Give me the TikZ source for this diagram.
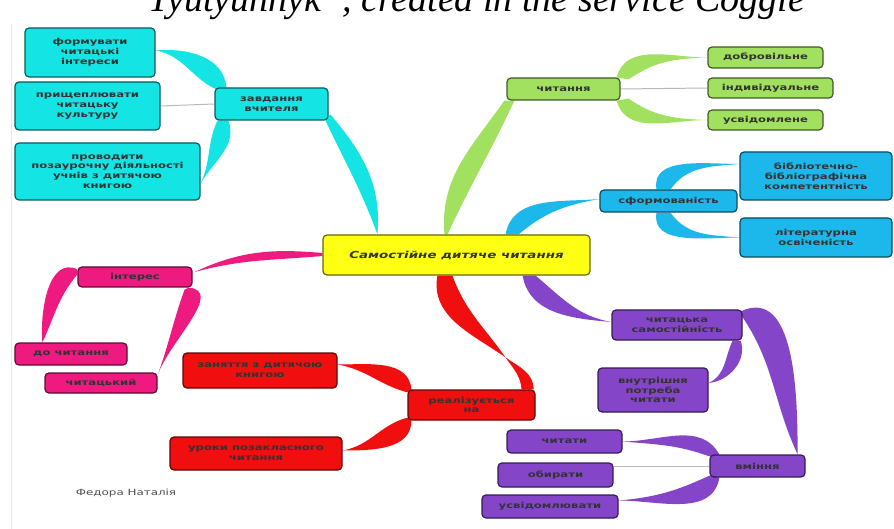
\documentclass[tikz,border=0pt]{standalone}
\usepackage{fontspec}
\newfontfamily\boxfont[FakeStretch=1.4]{DejaVu Sans}
\newfontfamily\capfont{Liberation Serif}
\usetikzlibrary{calc, backgrounds}
\definecolor{cyanc}{HTML}{14E4E4}
\definecolor{greenc}{HTML}{A2E060}
\definecolor{bluec}{HTML}{1CB8EC}
\definecolor{yellowc}{HTML}{FFFF14}
\definecolor{purc}{HTML}{8445C8}
\definecolor{redc}{HTML}{F00E0E}
\definecolor{pinkc}{HTML}{EE1A80}
\tikzset{
  mmbox/.style   = {draw=#1!40!black, fill=#1, line width=1.2pt,
                    rounded corners=4pt, align=center, inner sep=1pt,
                    font=\boxfont\bfseries\fontsize{8.3}{9.8}\selectfont, text=black!80},
  branch/.style  = {fill=#1},
  plainlink/.style = {draw=gray!55, line width=1pt},
}

\begin{document}
\begin{tikzpicture}[x=1pt, y=-1pt]
    \useasboundingbox (0,0) rectangle (894,529);
    % --- caption (cut by the page) and frame ---------------------------
    \node[font=\capfont\itshape\fontsize{38}{38}\selectfont, anchor=base] (caption)
      at (477,12) {Tyutyunnyk”, created in the service Coggle};
    \draw[gray!18, line width=1pt] (11,24) -- (11,529);
    % --- root ------------------------------------------------------------
    \node[mmbox=yellowc, minimum width=267pt, minimum height=40pt,
          font=\boxfont\bfseries\itshape\fontsize{9.6}{10}\selectfont] (centre) at (456.5,255)
      {Самостійне дитяче читання};
    % --- teacher (cyan) --------------------------------------------------
    \node[mmbox=cyanc, minimum width=113pt, minimum height=32pt] (zav)  at (271.5,104) {завдання\\вчителя};
    \node[mmbox=cyanc, minimum width=130pt, minimum height=49pt] (form) at (90,52.5)   {формувати\\читацькі\\інтереси};
    \node[mmbox=cyanc, minimum width=145pt, minimum height=48pt] (pryshch) at (87.5,106) {прищеплювати\\читацьку\\культуру};
    \node[mmbox=cyanc, minimum width=185pt, minimum height=57pt] (provod) at (107.5,171.5) {проводити\\позаурочну діяльності\\учнів з дитячою\\книгою};
    % --- reading (green) -------------------------------------------------
    \node[mmbox=greenc, minimum width=113pt, minimum height=22pt] (chyt)  at (563.5,89)  {читання};
    \node[mmbox=greenc, minimum width=115pt, minimum height=21pt] (dobr)  at (765.5,57.5) {добровільне};
    \node[mmbox=greenc, minimum width=125pt, minimum height=20pt] (indiv) at (770.5,88)  {індивідуальне};
    \node[mmbox=greenc, minimum width=115pt, minimum height=20pt] (usv)   at (765.5,120) {усвідомлене};
    % --- formedness (blue) -----------------------------------------------
    \node[mmbox=bluec, minimum width=137pt, minimum height=22pt] (sform) at (668.5,201) {сформованість};
    \node[mmbox=bluec, minimum width=152pt, minimum height=48pt] (bibl)  at (816,176)   {бібліотечно-\\бібліографічна\\компетентність};
    \node[mmbox=bluec, minimum width=152pt, minimum height=39pt] (lit)   at (816,237.5) {літературна\\освіченість};
    % --- independence (purple) -------------------------------------------
    \node[mmbox=purc, minimum width=130pt, minimum height=30pt] (samost)  at (677,325)   {читацька\\самостійність};
    \node[mmbox=purc, minimum width=110pt, minimum height=44pt] (vnutr)   at (653,390)   {внутрішня\\потреба\\читати};
    \node[mmbox=purc, minimum width=95pt,  minimum height=22pt] (vminnya) at (757.5,466) {вміння};
    \node[mmbox=purc, minimum width=115pt, minimum height=23pt] (chytaty) at (564.5,441.5) {читати};
    \node[mmbox=purc, minimum width=115pt, minimum height=24pt] (obyr)    at (555.5,475) {обирати};
    \node[mmbox=purc, minimum width=136pt, minimum height=23pt] (usvid)   at (550,506.5) {усвідомлювати};
    % --- realised (red) --------------------------------------------------
    \node[mmbox=redc, minimum width=127pt, minimum height=30pt] (real)  at (471.5,405) {реалізується\\на};
    \node[mmbox=redc, minimum width=154pt, minimum height=35pt] (zan)   at (260,370.5) {заняття з дитячою\\книгою};
    \node[mmbox=redc, minimum width=172pt, minimum height=33pt] (uroky) at (256,453.5) {уроки позакласного\\читання};
    % --- interest (pink) -------------------------------------------------
    \node[mmbox=pinkc, minimum width=114pt, minimum height=20pt] (inter)   at (135,277) {інтерес};
    \node[mmbox=pinkc, minimum width=112pt, minimum height=22pt] (dochyt)  at (71,354)  {до читання};
    \node[mmbox=pinkc, minimum width=112pt, minimum height=20pt] (chytats) at (101,383) {читацький};
    % --- signature -------------------------------------------------------
    \node[font=\boxfont\fontsize{8.5}{9.5}\selectfont, text=gray!60!black] (author) at (126,493) {Федора Наталія};
    % --- branches --------------------------------------------------------
    \begin{scope}[on background layer]
      \fill[branch=cyanc] ($(zav.south east)+(2,-6)$) to[out=-50,in=85] ($(centre.north west)+(55,0)$)
        to[out=110,in=-65] ($(zav.south east)+(-4,-2)$) -- cycle;
      \fill[branch=cyanc] ($(zav.north west)+(12,0)$) to[out=95,in=5] ($(form.east)+(0,-2)$)
        to[out=-10,in=155] ($(zav.north west)+(2,2)$) -- cycle;
      \draw[plainlink] (pryshch.east) -- (zav.west);
      \fill[branch=cyanc] ($(zav.south west)+(14,0)$) to[out=-70,in=60] ($(provod.east)+(0,12)$)
        to[out=65,in=-115] ($(zav.south west)+(3,0)$) -- cycle;

      \fill[branch=greenc] ($(centre.north)+(-12,0)$) to[out=95,in=-125] ($(chyt.south west)+(-2,0)$)
        -- ($(chyt.south west)+(8,0)$) to[out=-115,in=65] ($(centre.north)+(-9,0)$) -- cycle;
      \fill[branch=greenc] ($(chyt.north east)+(-4,0)$) to[out=75,in=180] (dobr.west)
        to[out=182,in=35] ($(chyt.north east)+(8,2)$) -- cycle;
      \draw[plainlink] (chyt.east) -- (indiv.west);
      \fill[branch=greenc] ($(chyt.south east)+(-4,0)$) to[out=-75,in=180] (usv.west)
        to[out=178,in=-35] ($(chyt.south east)+(8,-2)$) -- cycle;

      \fill[branch=bluec] ($(centre.north east)+(-85,0)$) to[out=80,in=185] ($(sform.west)+(0,-2)$)
        to[out=190,in=40] ($(centre.north east)+(-72,0)$) -- cycle;
      \fill[branch=bluec] ($(sform.north)+(-12,0)$) to[out=100,in=180] ($(bibl.west)+(0,-12)$)
        to[out=185,in=55] ($(sform.north)+(2,0)$) -- cycle;
      \fill[branch=bluec] ($(sform.south)+(-12,0)$) to[out=-100,in=180] (lit.west)
        to[out=175,in=-55] ($(sform.south)+(2,0)$) -- cycle;

      \fill[branch=purc] ($(centre.south east)+(-68,0)$) to[out=-80,in=175] ($(samost.west)+(0,-3)$)
        to[out=170,in=-40] ($(centre.south east)+(-55,0)$) -- cycle;
      \fill[branch=purc] ($(samost.north east)+(-2,2)$) to[out=25,in=90] ($(vminnya.north east)+(-8,0)$)
        to[out=115,in=-55] ($(samost.north east)+(-2,5)$) -- cycle;
      \fill[branch=purc] ($(samost.south east)+(-2,0)$) to[out=-70,in=5] ($(vnutr.east)+(0,-7)$)
        to[out=25,in=-115] ($(samost.south east)+(-10,0)$) -- cycle;
      \fill[branch=purc] ($(vminnya.north west)+(10,0)$) to[out=120,in=0] (chytaty.east)
        to[out=-5,in=160] ($(vminnya.north west)+(0,2)$) -- cycle;
      \draw[plainlink] (vminnya.west) -- (vminnya.west -| obyr.east);
      \fill[branch=purc] ($(vminnya.south west)+(10,0)$) to[out=-100,in=0] ($(usvid.east)+(0,-6)$)
        to[out=5,in=-155] ($(vminnya.south west)+(0,-2)$) -- cycle;

      \coordinate (twist) at ($(real.north)+(34,-32)$);
      \fill[branch=redc] ($(centre.south west)+(115,0)$) to[out=-100,in=145] (twist)
        to[out=-35,in=90] ($(real.north east)+(-2,0)$) -- ($(real.north east)+(-14,0)$)
        to[out=95,in=-55] (twist) to[out=125,in=-70] ($(centre.south west)+(130,0)$) -- cycle;
      \fill[branch=redc] ($(real.north west)+(4,0)$) to[out=95,in=0] ($(zan.east)+(0,-6)$)
        to[out=-10,in=165] ($(real.north west)+(0,3)$) -- cycle;
      \fill[branch=redc] ($(real.south west)+(4,0)$) to[out=-90,in=0] ($(uroky.east)+(0,-3)$)
        to[out=10,in=-165] ($(real.south west)+(0,-3)$) -- cycle;

      \fill[branch=pinkc] ($(centre.west)+(0,-2)$) to[out=175,in=25] ($(inter.east)+(2,-5)$)
        to[out=15,in=-175] ($(centre.west)+(0,1)$) -- cycle;
      \fill[branch=pinkc] ($(inter.north west)+(0,3)$) to[out=155,in=95] ($(dochyt.north west)+(28,0)$)
        to[out=65,in=-130] ($(inter.north west)+(0,8)$) -- cycle;
      \fill[branch=pinkc] ($(inter.south east)+(-4,0)$) to[out=-5,in=70] ($(chytats.east)+(0,-8)$)
        to[out=70,in=-110] ($(inter.south east)+(-8,2)$) -- cycle;
    \end{scope}
\end{tikzpicture}
\end{document}
